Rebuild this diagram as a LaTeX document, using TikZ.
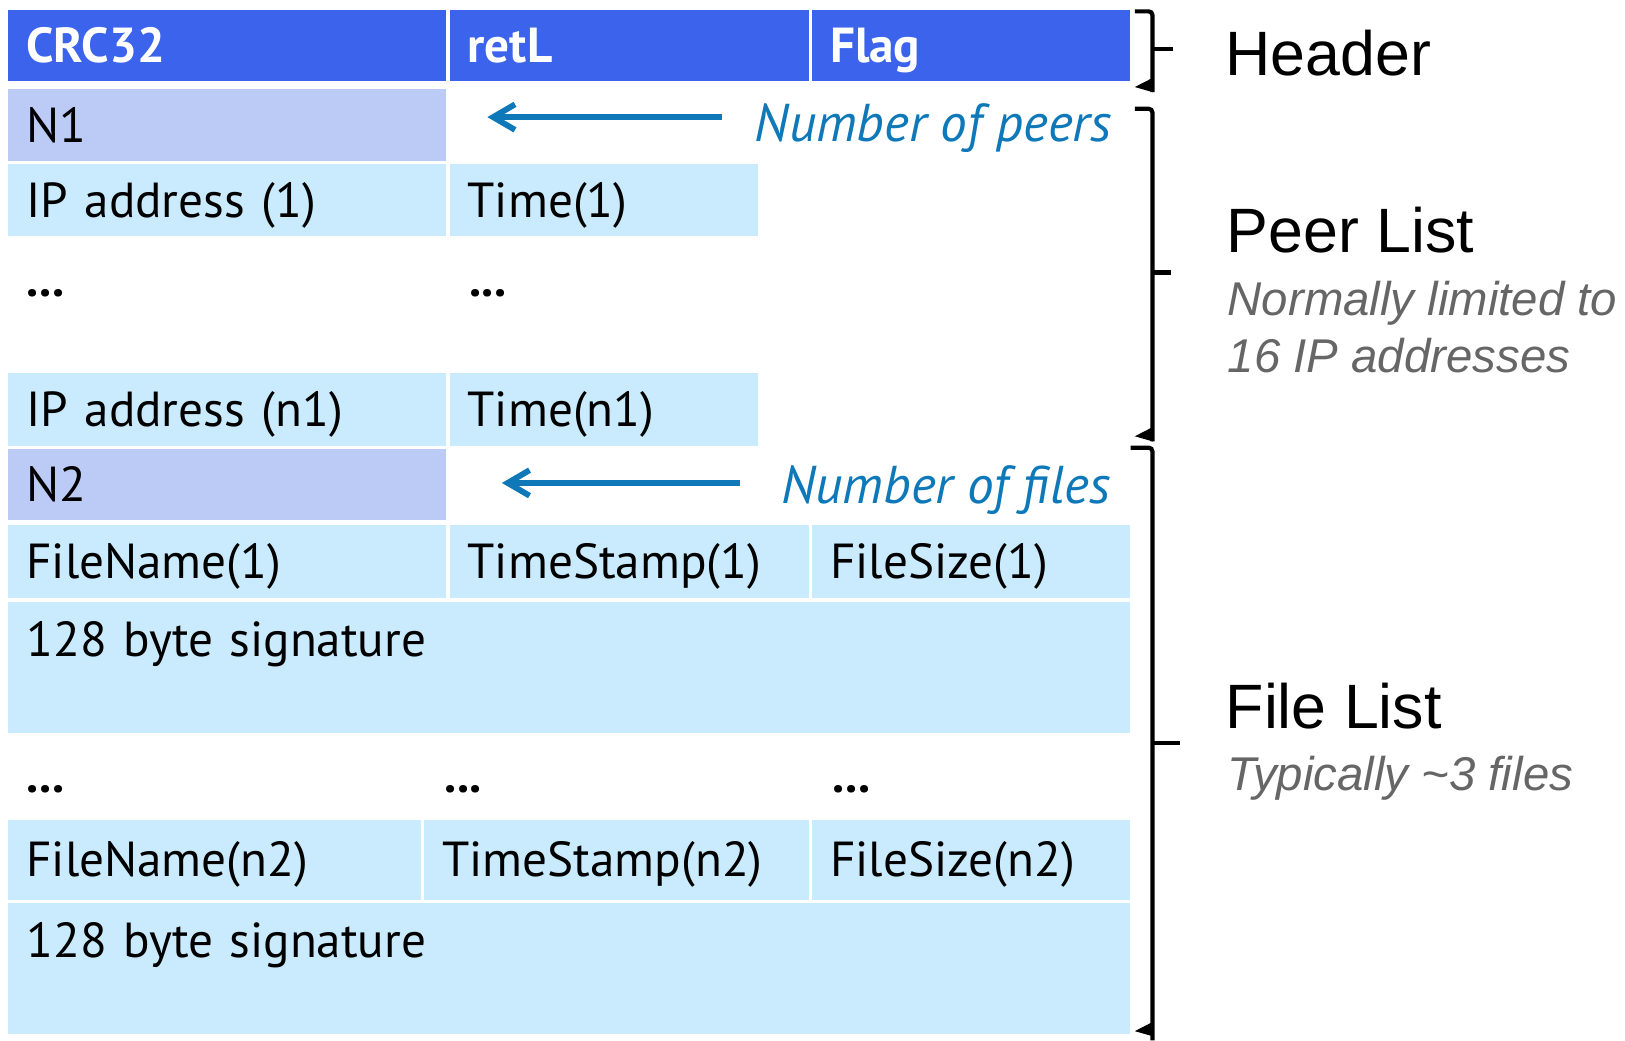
\documentclass[tikz,border=0pt]{standalone}
\usepackage{fontspec}
\setmainfont{PT Sans}
\newfontfamily\arialfont{Liberation Sans}
\usetikzlibrary{arrows.meta,positioning}
\definecolor{HeadBlue} {HTML}{3B63EB}
\definecolor{CountBG}  {HTML}{BCCBF6}
\definecolor{FieldBG}  {HTML}{C9EBFD}
\definecolor{NoteBlue} {HTML}{0E78B8}
\definecolor{NoteGrey} {HTML}{666666}

\begin{document}
\begin{tikzpicture}[x=0.01cm,y=-0.01cm,
    cell/.style={fill=FieldBG,draw=white,line width=0.85pt,anchor=north west,
                 outer sep=0pt,inner xsep=0.19cm,inner ysep=0pt,align=left,
                 text width=#1,minimum height=0.73cm,text height=9.4pt,text depth=0pt,
                 font=\fontsize{13.5}{16}\selectfont},
    hdr/.style={cell=#1,fill=HeadBlue,text=white,minimum height=0.71cm,
                font=\fontsize{13.5}{16}\selectfont\bfseries},
    count/.style={cell=#1,fill=CountBG,minimum height=0.72cm},
    sig/.style={cell=10.47cm,minimum height=1.29cm,text depth=0.54cm},
    dots/.style={anchor=base west,inner sep=0pt,font=\fontsize{13.5}{16}\selectfont\bfseries},
    note/.style={anchor=base east,inner sep=0pt,text=NoteBlue,
                 font=\fontsize{14.6}{17}\selectfont\itshape},
    arr/.style={{Straight Barb[length=6pt,width=7pt]}-,NoteBlue,line width=1.6pt},
    part/.style={anchor=base west,inner sep=0pt,font=\arialfont\fontsize{17.2}{20}\selectfont},
    hint/.style={anchor=base west,inner sep=0pt,text=NoteGrey,
                 font=\arialfont\itshape\fontsize{13}{16}\selectfont},
    brace/.style={line width=1.15pt,rounded corners=1pt,line cap=butt}]
    \useasboundingbox (0,0) rectangle (1568,1004);

    % header
    \node[hdr=3.875cm] (crc) at (6.5,8.5) {CRC32};
    \node[hdr=3.115cm, right=0pt of crc] (retl) {retL};
    \node[hdr=2.72cm, right=0pt of retl] (flag) {Flag};

    % peer list
    \node[count=3.875cm] (n1) at (6.5,84.5) {N1};
    \node[cell=3.875cm] (ip1) at (6.5,156.5) {IP address (1)};
    \node[cell=2.625cm, right=0pt of ip1] (t1) {Time(1)};
    \node[dots] (pdotsa) at (25,286) {...};
    \node[dots] (pdotsb) at (452,286) {...};
    \node[cell=3.875cm] (ipn) at (6.5,358.5) {IP address (n1)};
    \node[cell=2.625cm, right=0pt of ipn] (tn) {Time(n1)};

    % file list
    \node[count=3.875cm] (n2) at (6.5,431.5) {N2};
    \node[cell=3.875cm] (fn1) at (6.5,505.5) {FileName(1)};
    \node[cell=3.115cm, right=0pt of fn1] (ts1) {TimeStamp(1)};
    \node[cell=2.72cm, right=0pt of ts1] (fs1) {FileSize(1)};
    \node[sig] (sig1) at (6.5,579.5) {128 byte signature};
    \node[dots] (fdotsa) at (25,765) {...};
    \node[dots] (fdotsb) at (428,765) {...};
    \node[dots] (fdotsc) at (803,765) {...};
    \node[cell=3.63cm, minimum height=0.8cm] (fnn) at (6.5,789.5) {FileName(n2)};
    \node[cell=3.36cm, minimum height=0.8cm, right=0pt of fnn] (tsn) {TimeStamp(n2)};
    \node[cell=2.72cm, minimum height=0.8cm, right=0pt of tsn] (fsn) {FileSize(n2)};
    \node[sig, minimum height=1.3cm] (sig2) at (6.5,869.5) {128 byte signature};

    % counters
    \node[note] (peers) at (1073,137) {Number of peers};
    \node[note] (files) at (1072,485.5) {Number of files};
    \draw[arr, shorten <=0.38cm, shorten >=0.31cm]
        ([yshift=0.075cm]n1.east) -- ([yshift=0.075cm]n1.east -| peers.west);
    \draw[arr, shorten <=0.52cm, shorten >=0.39cm]
        ([yshift=0.015cm]n2.east) -- ([yshift=0.015cm]n2.east -| files.west);

    % section braces
    \draw[brace] (1095,11) -- (1112,11) -- (1112,89);
    \draw[brace] (1112,47) -- (1132,47);
    \fill (1112.5,75) -- (1095,84) -- (1112.5,89) -- cycle;

    \draw[brace] (1095,105) -- (1112,105) -- (1112,426);
    \draw[brace] (1112,263) -- (1130,263);
    \fill (1112.5,412) -- (1095,421) -- (1112.5,426) -- cycle;

    \draw[brace] (1091,432) -- (1112,432) -- (1112,1004);
    \draw[brace] (1112,717) -- (1139,717);
    \fill (1112.5,986) -- (1095,995) -- (1112.5,1000) -- cycle;

    \node[part] (hdlbl) at (1182,73) {Header};
    \node[part] (pllbl) at (1183,244) {Peer List};
    \node[hint] (plnote) at (1184,304) {Normally limited to};
    \node[hint] (plnote2) at (1184,359) {16 IP addresses};
    \node[part] (fllbl) at (1182,703) {File List};
    \node[hint] (flnote) at (1184,763) {Typically \textasciitilde3 files};
\end{tikzpicture}
\end{document}
